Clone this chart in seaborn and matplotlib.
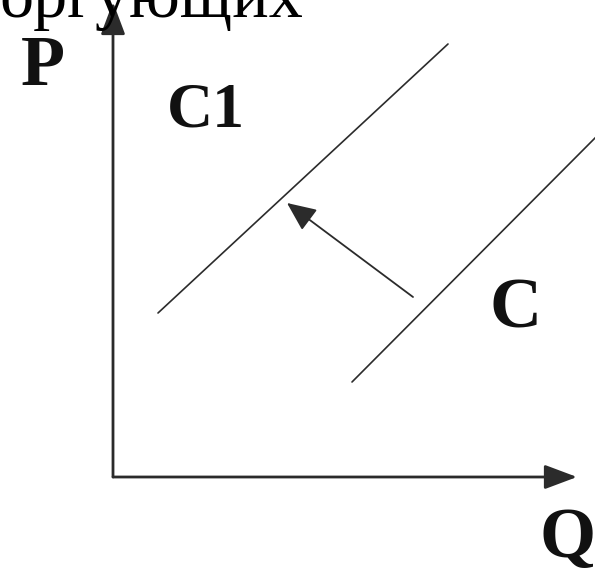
import matplotlib
matplotlib.use("Agg")
import matplotlib.pyplot as plt
import seaborn as sns
import pandas as pd

# Schematic supply shift: curve C moves up/left to C1
curve_names = ["C1", "C1", "C", "C"]
q_values = [0.90, 6.70, 4.78, 9.70]
p_values = [3.28, 8.66, 1.90, 6.84]

shift_from = (6.00, 3.60)
shift_to = (3.48, 5.48)

axis_q_max = 9.28
axis_p_max = 9.50

label_text = ["C1", "C"]
label_q = [1.86, 8.05]
label_p = [7.30, 3.34]

header_text = "оргующих"

sns.set_theme(style="white")
plt.rcParams["font.family"] = ["Liberation Serif", "DejaVu Serif"]

ink = "#2b2b2b"

fig = plt.figure(figsize=(5.95, 5.72), dpi=100)
ax = fig.add_axes([0, 0, 1, 1])
ax.set_xlim(-113 / 50, 482 / 50)
ax.set_ylim(-95 / 50, 477 / 50)
ax.axis("off")

df = pd.DataFrame({"curve": curve_names, "Q": q_values, "P": p_values})
sns.lineplot(data=df, x="Q", y="P", units="curve", estimator=None,
             color=ink, linewidth=1.2, sort=False, legend=False, ax=ax)

axis_style = "-|>,head_length=0.8,head_width=0.3"
ax.annotate("", xy=(axis_q_max, 0), xytext=(0, 0),
            arrowprops=dict(arrowstyle=axis_style, color=ink, lw=2.0,
                            mutation_scale=25, shrinkA=0, shrinkB=0))
ax.annotate("", xy=(0, axis_p_max), xytext=(0, 0),
            arrowprops=dict(arrowstyle=axis_style, color=ink, lw=2.0,
                            mutation_scale=25, shrinkA=0, shrinkB=0))

# shift arrow
ax.annotate("", xy=shift_to, xytext=shift_from,
            arrowprops=dict(arrowstyle="-|>,head_length=0.72,head_width=0.32",
                            color=ink, lw=1.3, mutation_scale=25,
                            shrinkA=0, shrinkB=0))

for txt, q, p in zip(label_text, label_q, label_p):
    ax.text(q, p, txt, ha="center", va="center", fontsize=46 if txt == "C1" else 52,
            fontweight="bold", color="#111111")

ax.text(-1.40, 8.18, "P", ha="center", va="center", fontsize=52,
        fontweight="bold", color="#111111")
ax.text(9.10, -1.26, "Q", ha="center", va="center", fontsize=52,
        fontweight="bold", color="#111111")

# header is cropped at the top edge in the source image
ax.text(-2.28, (477 - 17) / 50, header_text, ha="left", va="baseline",
        fontsize=49, color="black")

fig.savefig("out.png", dpi=100)
